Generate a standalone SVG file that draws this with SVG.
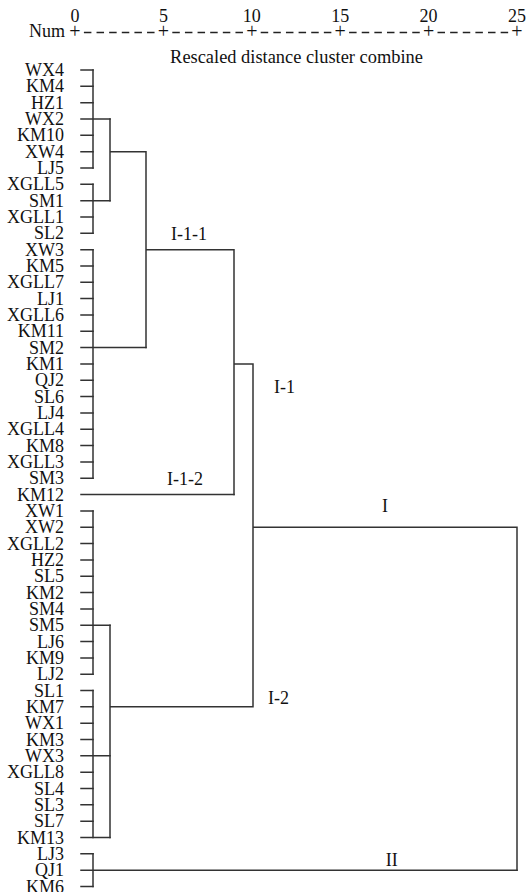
<svg xmlns="http://www.w3.org/2000/svg" width="527" height="892" viewBox="0 0 527 892">
<style>
text{font-family:"Liberation Serif","Times New Roman",serif;font-size:18px;fill:#111}
.lab{text-anchor:end}
.mid{text-anchor:middle}
.ln{fill:none;stroke:#333;stroke-width:1.5;stroke-linecap:square}
.ax{stroke:#222;stroke-width:1.5;stroke-dasharray:7.5 5.13}
</style>
<rect width="527" height="892" fill="#fff"/>
<g id="axis">
<text class="mid" x="75" y="22">0</text>
<text class="mid" x="163.4" y="22">5</text>
<text class="mid" x="251.8" y="22">10</text>
<text class="mid" x="340.2" y="22">15</text>
<text class="mid" x="428.6" y="22">20</text>
<text class="mid" x="517" y="22">25</text>
<text class="lab" x="65" y="37">Num</text>
<text class="mid" x="75" y="38" style="font-size:20px">+</text>
<text class="mid" x="163.4" y="38" style="font-size:20px">+</text>
<text class="mid" x="251.8" y="38" style="font-size:20px">+</text>
<text class="mid" x="340.2" y="38" style="font-size:20px">+</text>
<text class="mid" x="428.6" y="38" style="font-size:20px">+</text>
<text class="mid" x="517" y="38" style="font-size:20px">+</text>
<line class="ax" x1="83.9" y1="32.5" x2="158.9" y2="32.5"/>
<line class="ax" x1="172.3" y1="32.5" x2="247.3" y2="32.5"/>
<line class="ax" x1="260.7" y1="32.5" x2="335.7" y2="32.5"/>
<line class="ax" x1="349.1" y1="32.5" x2="424.1" y2="32.5"/>
<line class="ax" x1="437.5" y1="32.5" x2="512.5" y2="32.5"/>
<text class="mid" x="296.5" y="63" style="font-size:18.4px">Rescaled distance cluster combine</text>
</g>
<g id="leaves">
<g id="n-WX4"><text class="lab" x="64" y="76">WX4</text></g>
<g id="n-KM4"><text class="lab" x="64" y="92.33">KM4</text></g>
<g id="n-HZ1"><text class="lab" x="64" y="108.66">HZ1</text></g>
<g id="n-WX2"><text class="lab" x="64" y="124.99">WX2</text></g>
<g id="n-KM10"><text class="lab" x="64" y="141.32">KM10</text></g>
<g id="n-XW4"><text class="lab" x="64" y="157.65">XW4</text></g>
<g id="n-LJ5"><text class="lab" x="64" y="173.98">LJ5</text></g>
<g id="n-XGLL5"><text class="lab" x="64" y="190.31">XGLL5</text></g>
<g id="n-SM1"><text class="lab" x="64" y="206.64">SM1</text></g>
<g id="n-XGLL1"><text class="lab" x="64" y="222.97">XGLL1</text></g>
<g id="n-SL2"><text class="lab" x="64" y="239.3">SL2</text></g>
<g id="n-XW3"><text class="lab" x="64" y="255.63">XW3</text></g>
<g id="n-KM5"><text class="lab" x="64" y="271.96">KM5</text></g>
<g id="n-XGLL7"><text class="lab" x="64" y="288.29">XGLL7</text></g>
<g id="n-LJ1"><text class="lab" x="64" y="304.62">LJ1</text></g>
<g id="n-XGLL6"><text class="lab" x="64" y="320.95">XGLL6</text></g>
<g id="n-KM11"><text class="lab" x="64" y="337.28">KM11</text></g>
<g id="n-SM2"><text class="lab" x="64" y="353.61">SM2</text></g>
<g id="n-KM1"><text class="lab" x="64" y="369.94">KM1</text></g>
<g id="n-QJ2"><text class="lab" x="64" y="386.27">QJ2</text></g>
<g id="n-SL6"><text class="lab" x="64" y="402.6">SL6</text></g>
<g id="n-LJ4"><text class="lab" x="64" y="418.93">LJ4</text></g>
<g id="n-XGLL4"><text class="lab" x="64" y="435.26">XGLL4</text></g>
<g id="n-KM8"><text class="lab" x="64" y="451.59">KM8</text></g>
<g id="n-XGLL3"><text class="lab" x="64" y="467.92">XGLL3</text></g>
<g id="n-SM3"><text class="lab" x="64" y="484.25">SM3</text></g>
<g id="n-KM12"><text class="lab" x="64" y="500.58">KM12</text></g>
<g id="n-XW1"><text class="lab" x="64" y="516.91">XW1</text></g>
<g id="n-XW2"><text class="lab" x="64" y="533.24">XW2</text></g>
<g id="n-XGLL2"><text class="lab" x="64" y="549.57">XGLL2</text></g>
<g id="n-HZ2"><text class="lab" x="64" y="565.9">HZ2</text></g>
<g id="n-SL5"><text class="lab" x="64" y="582.23">SL5</text></g>
<g id="n-KM2"><text class="lab" x="64" y="598.56">KM2</text></g>
<g id="n-SM4"><text class="lab" x="64" y="614.89">SM4</text></g>
<g id="n-SM5"><text class="lab" x="64" y="631.22">SM5</text></g>
<g id="n-LJ6"><text class="lab" x="64" y="647.55">LJ6</text></g>
<g id="n-KM9"><text class="lab" x="64" y="663.88">KM9</text></g>
<g id="n-LJ2"><text class="lab" x="64" y="680.21">LJ2</text></g>
<g id="n-SL1"><text class="lab" x="64" y="696.54">SL1</text></g>
<g id="n-KM7"><text class="lab" x="64" y="712.87">KM7</text></g>
<g id="n-WX1"><text class="lab" x="64" y="729.2">WX1</text></g>
<g id="n-KM3"><text class="lab" x="64" y="745.53">KM3</text></g>
<g id="n-WX3"><text class="lab" x="64" y="761.86">WX3</text></g>
<g id="n-XGLL8"><text class="lab" x="64" y="778.19">XGLL8</text></g>
<g id="n-SL4"><text class="lab" x="64" y="794.52">SL4</text></g>
<g id="n-SL3"><text class="lab" x="64" y="810.85">SL3</text></g>
<g id="n-SL7"><text class="lab" x="64" y="827.18">SL7</text></g>
<g id="n-KM13"><text class="lab" x="64" y="843.51">KM13</text></g>
<g id="n-LJ3"><text class="lab" x="64" y="859.84">LJ3</text></g>
<g id="n-QJ1"><text class="lab" x="64" y="876.17">QJ1</text></g>
<g id="n-KM6"><text class="lab" x="64" y="892.5">KM6</text></g>
</g>
<g id="clusters">
<g id="c-I-1-1"><text class="mid" x="189" y="240">I-1-1</text></g>
<g id="c-I-1-2"><text class="mid" x="185" y="485">I-1-2</text></g>
<g id="c-I-1"><text class="mid" x="284.5" y="393">I-1</text></g>
<g id="c-I"><text class="mid" x="385" y="512">I</text></g>
<g id="c-I-2"><text class="mid" x="278.5" y="704">I-2</text></g>
<g id="c-II"><text class="mid" x="391.7" y="866">II</text></g>
</g>
<g id="connectors" class="ln">
<path d="M81 70H93M81 86.33H93M81 102.66H93M81 118.99H110M81 135.32H93M81 151.65H93M81 167.98H93M81 184.31H93M81 200.64H110M81 216.97H93M81 233.3H93M81 249.63H93M81 265.96H93M81 282.29H93M81 298.62H93M81 314.95H93M81 331.28H93M81 347.61H146M81 363.94H93M81 380.27H93M81 396.6H93M81 412.93H93M81 429.26H93M81 445.59H93M81 461.92H93M81 478.25H93M81 494.58H234M81 510.91H93M81 527.24H93M81 543.57H93M81 559.9H93M81 576.23H93M81 592.56H93M81 608.89H93M81 625.22H110M81 641.55H93M81 657.88H93M81 674.21H93M81 690.54H93M81 706.87H93M81 723.2H93M81 739.53H93M81 755.86H110M81 772.19H93M81 788.52H93M81 804.85H93M81 821.18H93M81 837.51H110M81 853.84H93M81 870.17H517M81 886.5H93"/>
<path d="M93 70V167.98M93 184.31V233.3M93 249.63V478.25M93 510.91V674.21M93 690.54V837.51M93 853.84V886.5"/>
<path d="M110 118.99V200.64M110 151.65H146M146 151.65V347.61M146 249.63H234M234 249.63V494.58M234 363.94H253M253 363.94V706.87M110 625.22V837.51M110 706.87H253M253 527.24H517V870.17"/>
</g>
</svg>
